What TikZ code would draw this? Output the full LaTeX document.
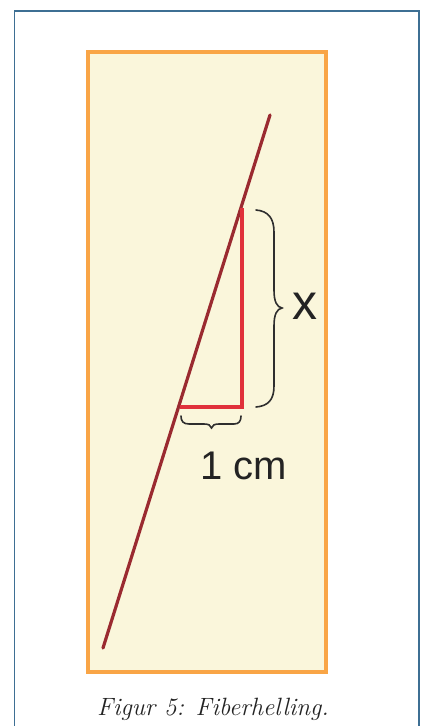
\documentclass[tikz,border=0pt]{standalone}
\usepackage{fontspec}
\newfontfamily\labelfont{Liberation Sans}
\definecolor{framecol}{HTML}{3E6F93}
\definecolor{boxedge}{HTML}{F9A546}
\definecolor{boxfill}{HTML}{FAF6DB}
\definecolor{fibercol}{HTML}{9A2A30}
\definecolor{trianglecol}{HTML}{E0313B}
\definecolor{bracecol}{HTML}{2E2E2E}
\definecolor{textcol}{HTML}{232323}
\tikzset{
  fiber/.style={draw=fibercol, line width=3.2pt, line cap=round},
  tri/.style={draw=trianglecol, line width=3.1pt},
  bracedraw/.style={draw=bracecol, line width=1.6pt, line cap=round},
}
\begin{document}
\begin{tikzpicture}[x=1pt,y=1pt]
\useasboundingbox (0,0) rectangle (421,-726);
\begin{scope}
\clip (0,0) rectangle (421,-726);
\draw[framecol, line width=1.6pt] (14.5,-740) -- (14.5,-11) -- (419,-11) -- (419,-740);
\end{scope}
\draw[draw=boxedge, fill=boxfill, line width=4pt] (88,-52) rectangle (326,-672);
\coordinate (fbot) at (103,-648);
\coordinate (ftop) at (270,-115);
\coordinate (ta) at (180,-407);
\coordinate (tb) at (242,-407);
\coordinate (tc) at (242,-208);
\draw[fiber] (fbot) -- (ftop);
\draw[tri] (ta) -- (tb) -- (tc);
% right brace
\coordinate (rb1) at (256,-210);
\coordinate (rbtip) at (282,-308);
\coordinate (rb2) at (256,-407);
\draw[bracedraw] (rb1) .. controls (268,-211) and (274,-218) .. (274,-232)
  -- (274,-290) .. controls (274,-302) and (277,-307) .. (rbtip)
  .. controls (277,-309) and (274,-314) .. (274,-326)
  -- (274,-386) .. controls (274,-400) and (268,-406) .. (rb2);
% bottom brace
\coordinate (bb1) at (181,-416);
\coordinate (bbtip) at (211.5,-428);
\coordinate (bb2) at (241,-416);
\draw[bracedraw] (bb1) .. controls (181,-421) and (183,-424) .. (189,-424)
  -- (204,-424) .. controls (208,-424) and (211,-425) .. (bbtip)
  .. controls (212,-425) and (215,-424) .. (219,-424)
  -- (234,-424) .. controls (239,-424) and (241,-421) .. (bb2);
\node[font=\labelfont\fontsize{50}{50}\selectfont, text=textcol, inner sep=0pt, anchor=base] (xlab) at (304.5,-319) {x};
\node[font=\labelfont\fontsize{40}{40}\selectfont, text=textcol, inner sep=0pt, anchor=base] (cmlab) at (243.5,-479) {1 cm};
\node[font=\itshape\fontsize{25}{30}\selectfont, text=textcol, inner sep=0pt, anchor=base] (cap) at (213,-715) {Figur 5: Fiberhelling.};
\end{tikzpicture}
\end{document}
